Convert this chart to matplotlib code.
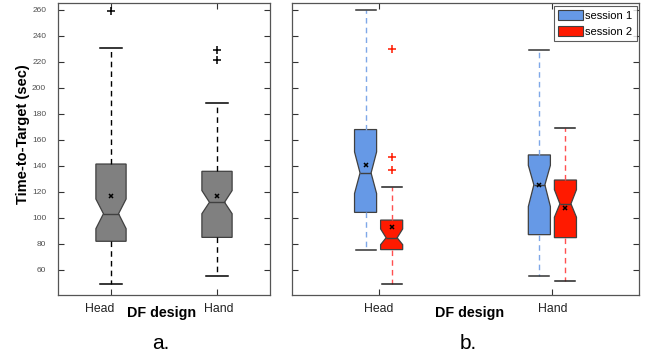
import matplotlib
matplotlib.use("Agg")
import matplotlib.pyplot as plt
import matplotlib.transforms as mtransforms
from matplotlib.patches import Patch

plt.rcParams['font.family'] = ['Liberation Sans', 'DejaVu Sans']

# ---- data ----
categories = ["Head", "Hand"]
sessions = ["session 1", "session 2"]

# panel a: combined
a_q1 = [81.8, 84.8]
a_med = [103.0, 111.8]
a_q3 = [141.2, 135.6]
a_whislo = [49.2, 54.8]
a_whishi = [230.3, 188.2]
a_mean = [116.6, 116.3]
a_cilo = [91.5, 103.0]
a_cihi = [114.3, 120.8]
a_fliers = [[259.0], [228.7, 221.0]]

# panel b: per session, [Head, Hand]
b1_q1 = [104.0, 86.9]
b1_med = [134.3, 125.2]
b1_q3 = [167.7, 148.2]
b1_whislo = [74.8, 55.3]
b1_whishi = [259.5, 229.2]
b1_mean = [140.5, 125.2]
b1_cilo = [118.5, 108.5]
b1_cihi = [150.5, 140.2]
b1_fliers = [[], []]

b2_q1 = [75.4, 84.6]
b2_med = [84.5, 110.6]
b2_q3 = [98.1, 128.9]
b2_whislo = [49.2, 51.3]
b2_whishi = [123.3, 169.0]
b2_mean = [92.9, 107.7]
b2_cilo = [79.2, 100.3]
b2_cihi = [91.3, 121.5]
b2_fliers = [[230.0, 146.6, 136.4], []]

yticks = [60, 80, 100, 120, 140, 160, 180, 200, 220, 240, 260]

GRAY = "#808080"
BLUE = "#6699e6"
RED = "#ff1a00"
EDGE = "#404040"


def stats(q1, med, q3, lo, hi, mean, cilo, cihi, fl):
    out = []
    for i in range(len(q1)):
        out.append(dict(q1=q1[i], med=med[i], q3=q3[i], whislo=lo[i], whishi=hi[i],
                        mean=mean[i], cilo=cilo[i], cihi=cihi[i], fliers=fl[i]))
    return out


def draw(ax, st, pos, width, face, wcolor, fcolor, capw, capcolor):
    ax.bxp(st, positions=pos, widths=width, shownotches=True, showmeans=True,
           patch_artist=True, capwidths=capw,
           boxprops=dict(facecolor=face, edgecolor=EDGE, linewidth=0.9),
           medianprops=dict(color=EDGE, linewidth=1.0),
           whiskerprops=dict(color=wcolor, linestyle=(0, (4, 3)), linewidth=1.0),
           capprops=dict(color=capcolor, linewidth=1.1),
           meanprops=dict(marker="x", markeredgecolor="black", markersize=3.5, markeredgewidth=1.1),
           flierprops=dict(marker="+", markeredgecolor=fcolor, markersize=6, markeredgewidth=1.1))


fig = plt.figure(figsize=(6.5, 3.56), dpi=100)
axa = fig.add_axes([58 / 650, 61 / 356, 212 / 650, 292 / 356])
axb = fig.add_axes([291.7 / 650, 61 / 356, 347.6 / 650, 292 / 356])

draw(axa, stats(a_q1, a_med, a_q3, a_whislo, a_whishi, a_mean, a_cilo, a_cihi, a_fliers),
     [1, 2], 0.285, GRAY, "black", "black", 0.2, "black")

off = 0.075
draw(axb, stats(b1_q1, b1_med, b1_q3, b1_whislo, b1_whishi, b1_mean, b1_cilo, b1_cihi, b1_fliers),
     [1 - off, 2 - off], 0.127, BLUE, "#7fa8e8", RED, 0.115, "#333333")
draw(axb, stats(b2_q1, b2_med, b2_q3, b2_whislo, b2_whishi, b2_mean, b2_cilo, b2_cihi, b2_fliers),
     [1 + off, 2 + off], 0.127, RED, "#ff5050", RED, 0.115, "#222222")

for ax in (axa, axb):
    ax.set_xlim(0.5, 2.5)
    ax.set_ylim(40.5, 265)
    ax.set_yticks(yticks)
    ax.set_xticks([1, 2])
    ax.set_xticklabels(categories, fontsize=8.8, color="#222222")
    ax.tick_params(direction="in", top=True, right=True, length=4, width=0.8,
                   color="#333333")
    ax.tick_params(axis="x", pad=6)
    ax.tick_params(axis="y", pad=8.5)
    for s in ax.spines.values():
        s.set_color("#555555")
        s.set_linewidth(0.9)

for lab in axa.get_yticklabels():
    lab.set_fontsize(6)
    lab.set_color("#505050")
axb.set_yticklabels([])

# left panel tick labels are slightly displaced in the reference
shifts = [-11, 2]
for lab, dx in zip(axa.get_xticklabels(), shifts):
    lab.set_transform(lab.get_transform() +
                      mtransforms.ScaledTranslation(dx / 100, 0, fig.dpi_scale_trans))

fig.text(23 / 650, 1 - 134.5 / 356, "Time-to-Target (sec)", rotation=90, fontsize=10.5,
         fontweight="bold", ha="center", va="center")
fig.text(162 / 650, 1 - 317 / 356, "DF design", fontsize=10.3, fontweight="bold",
         ha="center", va="baseline")
fig.text(469.5 / 650, 1 - 317 / 356, "DF design", fontsize=10.3, fontweight="bold",
         ha="center", va="baseline")
fig.text(160.5 / 650, 1 - 349 / 356, "a.", fontsize=15, ha="center", va="baseline")
fig.text(468 / 650, 1 - 349 / 356, "b.", fontsize=15, ha="center", va="baseline")

handles = [Patch(facecolor=BLUE, edgecolor=EDGE, linewidth=0.8),
           Patch(facecolor=RED, edgecolor=EDGE, linewidth=0.8)]
leg = axb.legend(handles, sessions, loc="upper right", fontsize=8, frameon=True,
                 fancybox=False, edgecolor="#333333", borderpad=0.4, labelspacing=0.45,
                 handlelength=2.25, handleheight=1.0, handletextpad=0.15,
                 borderaxespad=0.25)
leg.get_frame().set_linewidth(0.8)

fig.savefig("out.png", dpi=100, facecolor="white")
